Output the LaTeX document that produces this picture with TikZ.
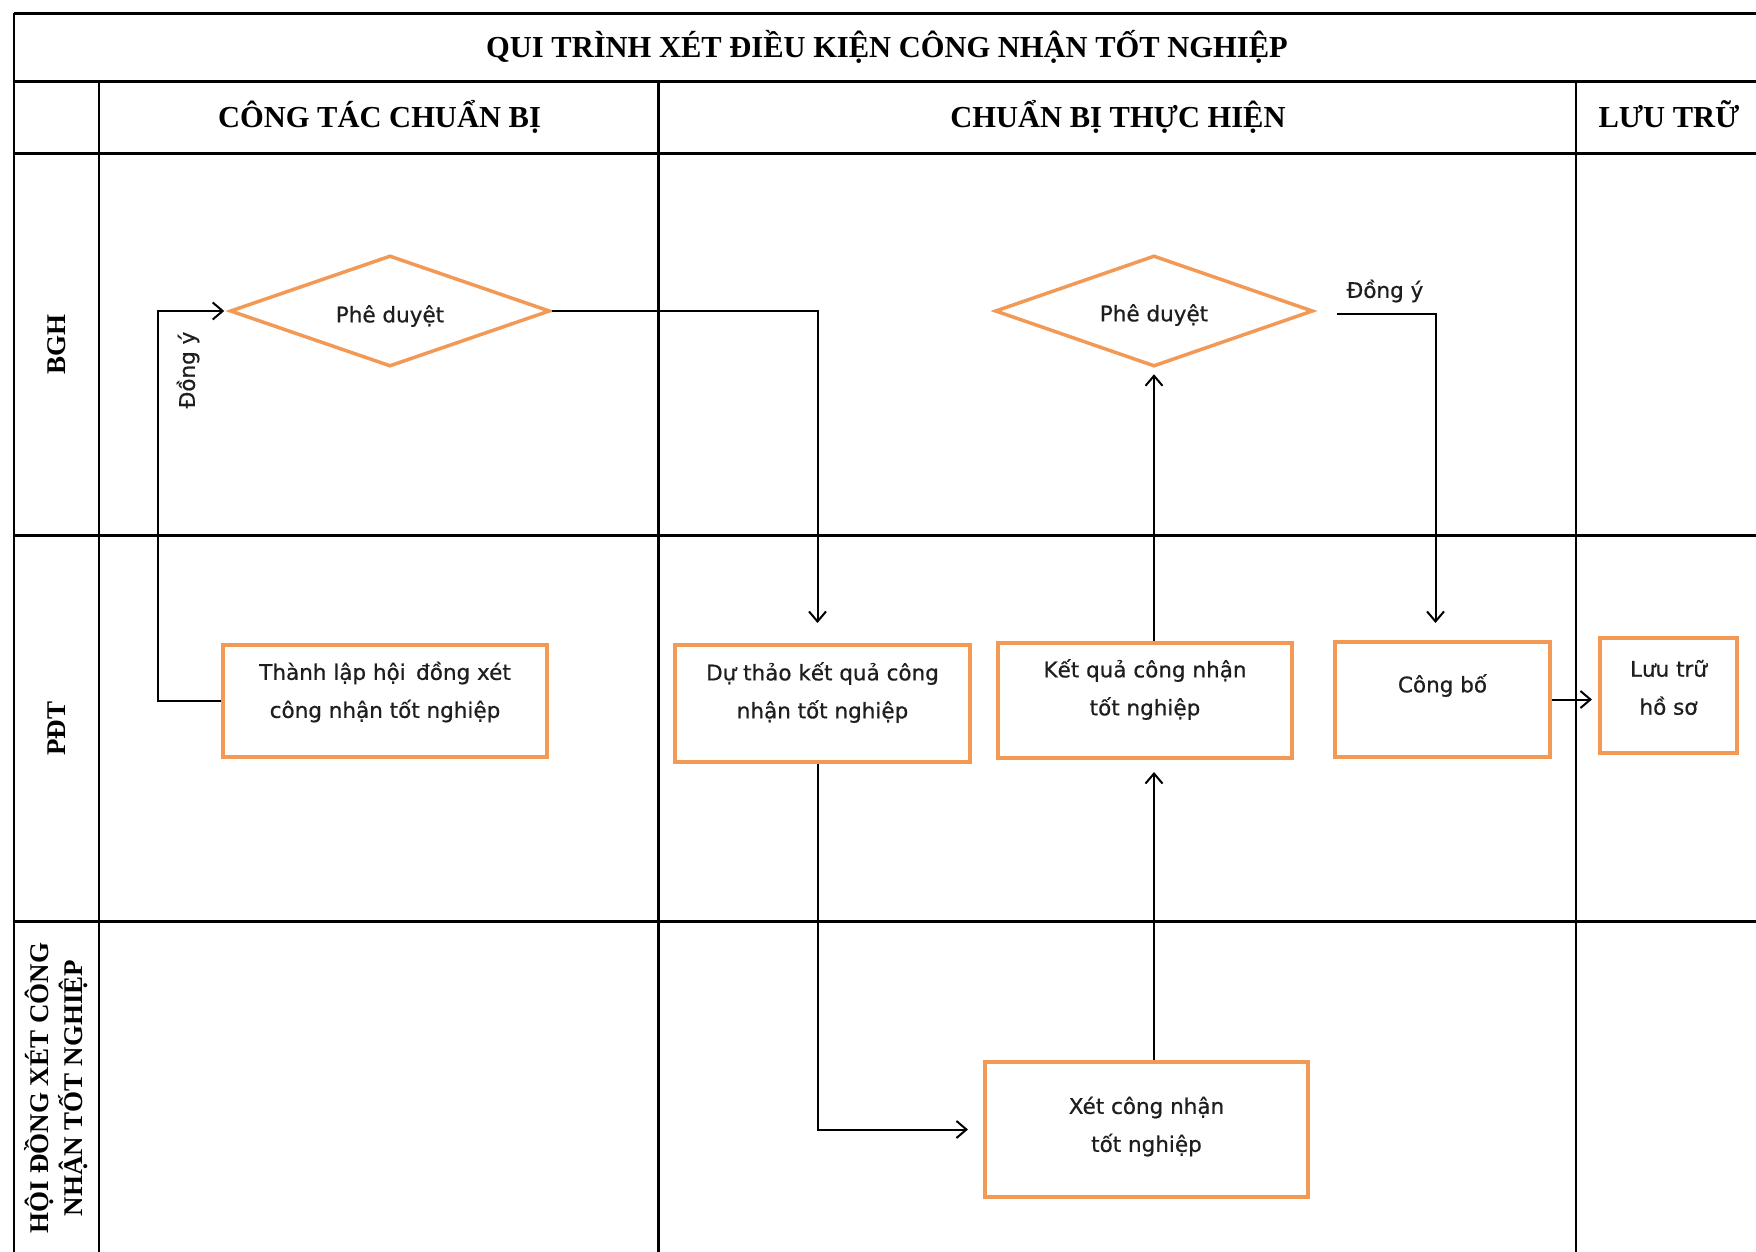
\documentclass[tikz,border=0pt]{standalone}
\usepackage{fontspec}
\setmainfont{Liberation Serif}
\newfontfamily\bfont[FakeBold=0.6]{DejaVu Sans}
\usetikzlibrary{shapes.geometric,arrows.meta,calc}
\definecolor{org}{HTML}{F29A55}
\definecolor{txt}{HTML}{1E1E1E}
\begin{document}
\begin{tikzpicture}[x=1pt,y=-1pt,
  tline/.style={line width=2.8pt,black},
  hdr/.style={font=\fontsize{30.5}{34}\selectfont\bfseries, inner sep=0, anchor=base},
  lane/.style={font=\fontsize{27}{34}\selectfont\bfseries, rotate=90, align=center, inner sep=0},
  pbox/.style={draw=org, line width=4pt, fill=white, inner sep=0, rectangle},
  dia/.style={diamond, draw=org, line width=3.5pt, inner sep=0, aspect=3, fill=white},
  btxt/.style={font=\bfont\fontsize{21.5}{38}\selectfont, text=txt, align=center},
  conn/.style={line width=2pt, black, -{Straight Barb[length=10pt,width=17pt,line width=2pt]}},
]
\useasboundingbox (0,0) rectangle (1756,1252);
\fill[white] (0,0) rectangle (1756,1252);

% table
\draw[tline] (14,13.5) -- (1756,13.5);
\draw[tline] (14,81.8) -- (1756,81.8);
\draw[tline] (14,153.4) -- (1756,153.4);
\draw[tline] (14,535.4) -- (1756,535.4);
\draw[tline] (14,921.8) -- (1756,921.8);
\draw[tline] (14,13.5) -- (14,1252);
\draw[tline] (99,81.8) -- (99,1252);
\draw[tline] (658.5,81.8) -- (658.5,1252);
\draw[tline] (1576,81.8) -- (1576,1252);

% headers
\node[hdr] (title) at (887,58) {QUI TRÌNH XÉT ĐIỀU KIỆN CÔNG NHẬN TỐT NGHIỆP};
\node[hdr] (h1) at (379.5,128) {CÔNG TÁC CHUẨN BỊ};
\node[hdr] (h2) at (1118,128) {CHUẨN BỊ THỰC HIỆN};
\node[hdr] (h3) at (1669,128) {LƯU TRỮ};

% lanes
\node[lane] (l1) at (56.5,344.4) {BGH};
\node[lane] (l2) at (56.5,728.6) {PĐT};
\node[lane] (l3) at (56.5,1088) {HỘI ĐỒNG XÉT CÔNG\\NHẬN TỐT NGHIỆP};

% process nodes
\node[dia, minimum width=320, minimum height=111,
  label={[btxt,yshift=-5pt]center:Phê duyệt}] (d1) at (390,311) {};
\node[dia, minimum width=318, minimum height=111,
  label={[btxt,yshift=-4pt]center:Phê duyệt}] (d2) at (1154,311) {};

\node[pbox, minimum width=324, minimum height=112,
  label={[btxt,yshift=9pt]center:Thành lập hội\, đồng xét\\công nhận tốt nghiệp}] (tl) at (385,701) {};
\node[pbox, minimum width=295, minimum height=117,
  label={[btxt,yshift=11pt]center:Dự thảo kết quả công\\nhận tốt nghiệp}] (dt) at (822.5,703.5) {};
\node[pbox, minimum width=294, minimum height=115,
  label={[btxt,yshift=11pt]center:Kết quả công nhận\\tốt nghiệp}] (kq) at (1145,700.5) {};
\node[pbox, minimum width=215, minimum height=115,
  label={[btxt,yshift=14pt]center:Công bố}] (cb) at (1442.5,699.5) {};
\node[pbox, minimum width=137, minimum height=115,
  label={[btxt,yshift=8pt]center:Lưu trữ\\hồ sơ}] (lt) at (1668.5,695.5) {};
\node[pbox, minimum width=323, minimum height=135,
  label={[btxt,yshift=3pt]center:Xét công nhận\\tốt nghiệp}] (xet) at (1146.5,1129.5) {};

% connectors
\draw[conn, shorten >=4pt] (tl.west) -- ++(-63,0) |- (d1.west);
\node[btxt, rotate=90] (ly1) at (188,370) {Đồng ý};

\draw[conn] (d1.east) -| ($(dt.north)+(-5,-20)$);
\draw[conn] ($(dt.south)+(-5,0)$) |- ($(xet.west)+(-15,0)$);
\draw[conn] (xet.north -| d2.south) -- ($(kq.south -| d2.south)+(0,12)$);
\draw[conn] (kq.north -| d2.south) -- ($(d2.south)+(0,6)$);

\coordinate (c6) at ($(d2.east)+(22,3)$);
\draw[conn] (c6) -| ($(cb.north)+(-7,-17)$);
\node[btxt] (ly2) at (1385,291) {Đồng ý};

\draw[conn, shorten >=6pt] (cb.east) -- (cb.east -| lt.west);
\end{tikzpicture}
\end{document}
